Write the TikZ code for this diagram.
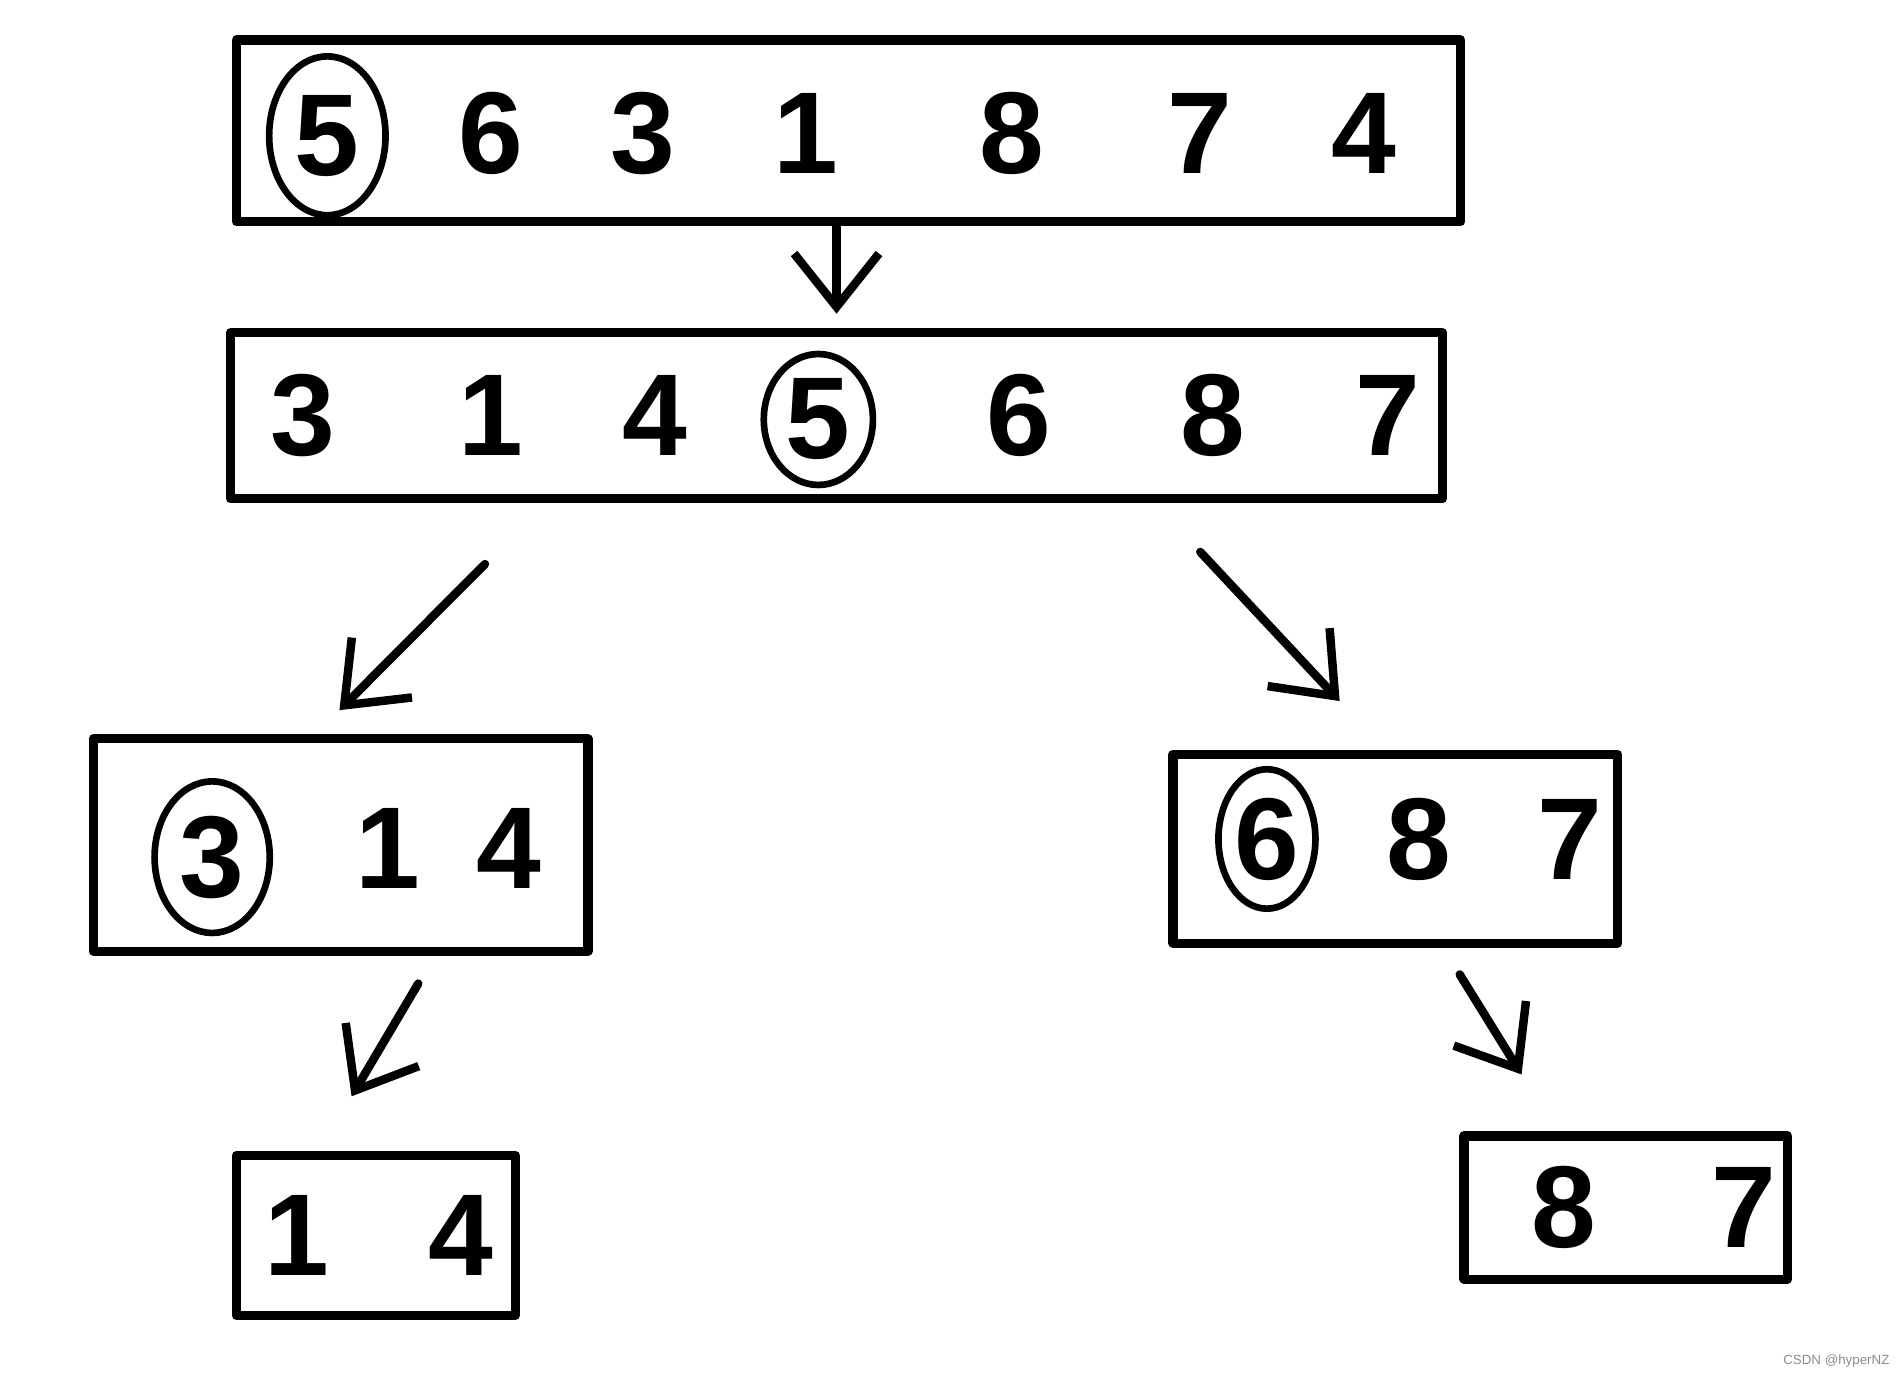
\documentclass[tikz,border=0pt]{standalone}
\usepackage{fontspec}
\setmainfont{Liberation Sans}
\usetikzlibrary{arrows.meta,shapes.geometric}

\begin{document}
\begin{tikzpicture}[
  x=1pt, y=-1pt,
  font=\fontsize{96}{106}\selectfont\bfseries,
  >={Straight Barb[length=44pt,width=70pt]},
  array/.style={
    draw=black,
    line width=7.5pt,
    line join=round,
    inner sep=0pt
  },
  digit/.style={
    inner sep=0pt
  },
  pivot/.style={
    ellipse,
    draw=black,
    line width=5.5pt,
    inner sep=0pt
  },
  flow/.style={->,line width=7pt,line cap=round,line join=round,draw=black}
]
  \useasboundingbox (0,0) rectangle (1568,1137);

  % Start array, pivot 5.
  \node[array,minimum width=1010pt,minimum height=150pt] (start) at (700,108) {};
  \node[pivot,minimum width=96pt,minimum height=131pt] (p1) at (270,112) {5};
  \node[digit] (s2) at (405,110) {6};
  \node[digit] (s3) at (530,110) {3};
  \node[digit] (s4) at (665,110) {1};
  \node[digit] (s5) at (835,110) {8};
  \node[digit] (s6) at (990,110) {7};
  \node[digit] (s7) at (1125,110) {4};

  % After the first partition.
  \node[array,minimum width=1000pt,minimum height=137pt] (part) at (690,343) {};
  \node[digit] (q1) at (250,343) {3};
  \node[digit] (q2) at (405,343) {1};
  \node[digit] (q3) at (540,343) {4};
  \node[pivot,minimum width=90pt,minimum height=108pt] (p2) at (675,346) {5};
  \node[digit] (q5) at (840,343) {6};
  \node[digit] (q6) at (1000,343) {8};
  \node[digit] (q7) at (1145,343) {7};

  % Left half, pivot 3.
  \node[array,minimum width=408pt,minimum height=175pt] (left) at (281,697) {};
  \node[pivot,minimum width=95pt,minimum height=125pt] (p3) at (175,707) {3};
  \node[digit] (l2) at (320,700) {1};
  \node[digit] (l3) at (420,700) {4};

  % Right half, pivot 6.
  \node[array,minimum width=367pt,minimum height=156pt] (right) at (1151,700) {};
  \node[pivot,minimum width=80pt,minimum height=115pt] (p4) at (1045,692) {6};
  \node[digit] (r2) at (1170,692) {8};
  \node[digit] (r3) at (1295,692) {7};

  % Remaining parts.
  \node[array,minimum width=230pt,minimum height=132pt] (leftrest) at (310,1019) {};
  \node[digit] (lr1) at (245,1019) {1};
  \node[digit] (lr2) at (380,1019) {4};

  \node[array,minimum width=267pt,minimum height=118pt] (rightrest) at (1341,996) {};
  \node[digit] (rr1) at (1290,996) {8};
  \node[digit] (rr2) at (1438,996) {7};

  \draw[flow] ([xshift=-10pt]start.south) -- ([shift={(0,-12)}]part.north);
  \draw[flow] ([shift={(-290,50)}]part.south) -- ([shift={(-1,-20)}]left.north);
  \draw[flow] ([shift={(300,40)}]part.south) -- ([shift={(-46,-40)}]right.north);
  \draw[flow] ([shift={(64,23)}]left.south) -- ([shift={(-20,-45)}]leftrest.north);
  \draw[flow] ([shift={(53,22)}]right.south) -- ([shift={(-86,-47)}]rightrest.north);

  \node[font=\fontsize{11}{13}\selectfont,text=black!45,anchor=east] (mark) at (1562,1123) {CSDN @hyperNZ};
\end{tikzpicture}
\end{document}
